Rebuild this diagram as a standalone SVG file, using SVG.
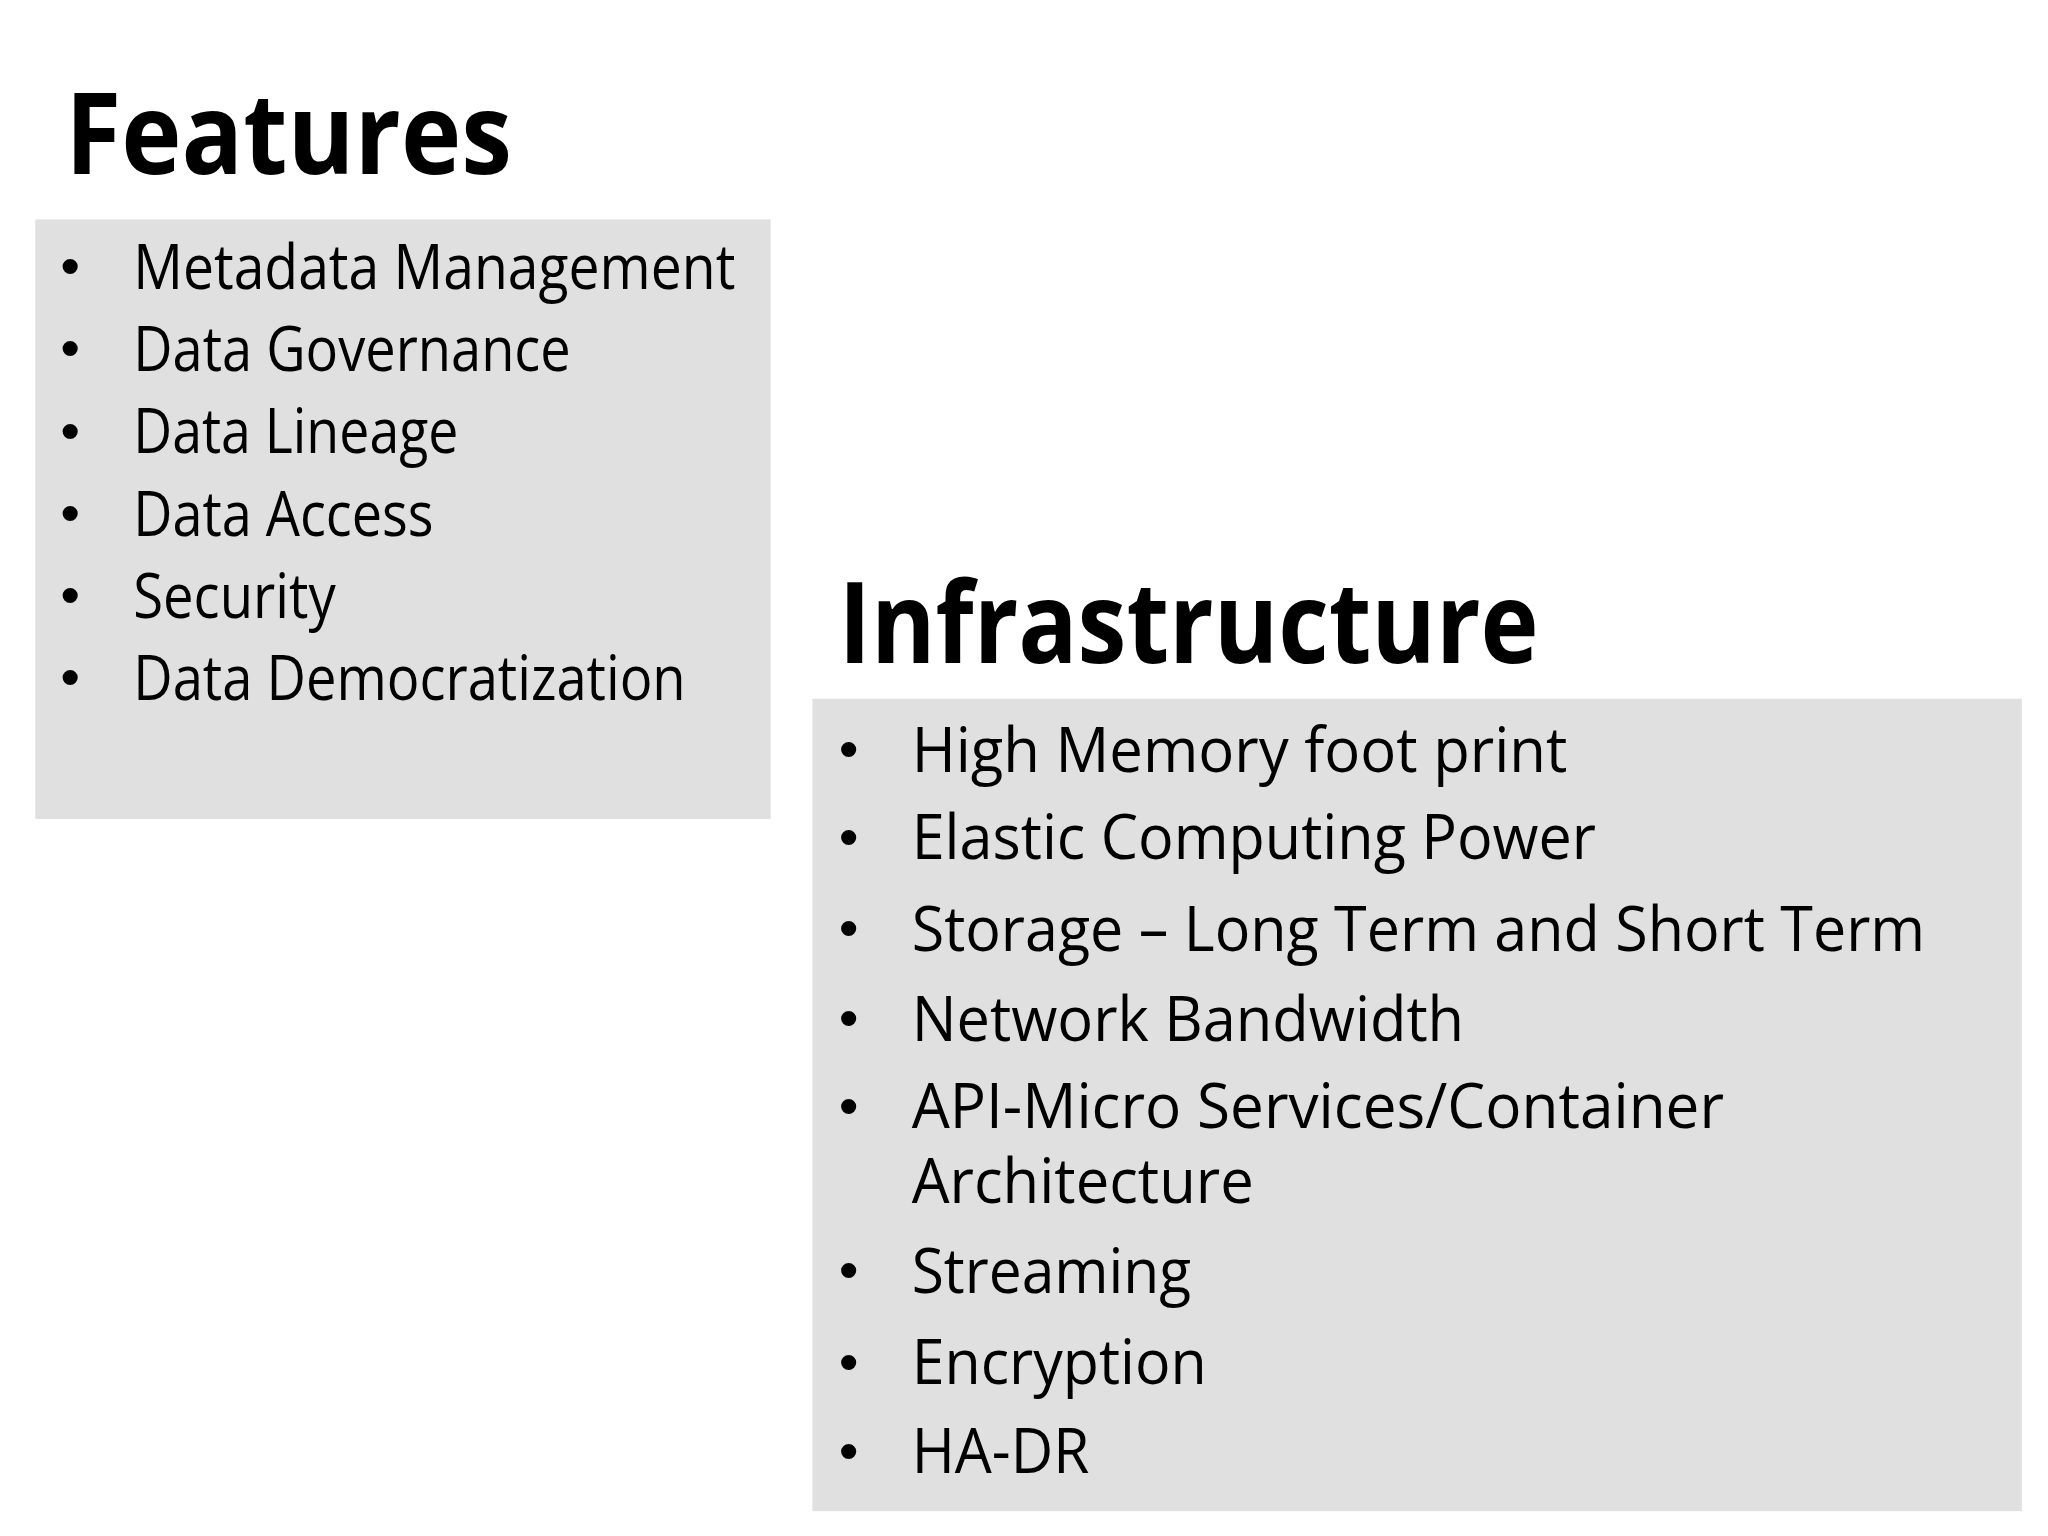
<svg xmlns="http://www.w3.org/2000/svg" width="2048" height="1536" viewBox="0 0 2048 1536">
<style>
.t{font-family:"Open Sans","DejaVu Sans",sans-serif;font-weight:bold;font-size:86px;fill:#000}
.i{font-family:"Open Sans","DejaVu Sans",sans-serif;font-size:47px;fill:#000}
.b{font-family:"DejaVu Sans",sans-serif;font-size:40px;fill:#000}
.box{fill:#e0e0e0}
</style>
<rect width="2048" height="1536" fill="#fff"/>
<g transform="scale(1.3061)">
<g id="features">
<text class="t" x="50" y="133" textLength="342" lengthAdjust="spacingAndGlyphs">Features</text>
<rect class="box" x="27" y="168" width="563" height="459"/>
<g class="b"><text x="42" y="219">•</text><text x="42" y="282">•</text><text x="42" y="345">•</text><text x="42" y="408">•</text><text x="42" y="471">•</text><text x="42" y="534">•</text></g>
<text class="i" x="102" y="221" textLength="461" lengthAdjust="spacingAndGlyphs">Metadata Management</text>
<text class="i" x="102" y="284" textLength="335" lengthAdjust="spacingAndGlyphs">Data Governance</text>
<text class="i" x="102" y="347" textLength="249" lengthAdjust="spacingAndGlyphs">Data Lineage</text>
<text class="i" x="102" y="410" textLength="230" lengthAdjust="spacingAndGlyphs">Data Access</text>
<text class="i" x="102" y="473" textLength="155" lengthAdjust="spacingAndGlyphs">Security</text>
<text class="i" x="102" y="536" textLength="423" lengthAdjust="spacingAndGlyphs">Data Democratization</text>
</g>
<g id="infrastructure">
<text class="t" x="642" y="508" textLength="536" lengthAdjust="spacingAndGlyphs">Infrastructure</text>
<rect class="box" x="622" y="535" width="926" height="622"/>
<g class="b"><text x="638" y="589">•</text><text x="638" y="656">•</text><text x="638" y="726">•</text><text x="638" y="795">•</text><text x="638" y="862">•</text><text x="638" y="988">•</text><text x="638" y="1058">•</text><text x="638" y="1126">•</text></g>
<text class="i" x="698" y="591" textLength="502" lengthAdjust="spacingAndGlyphs">High Memory foot print</text>
<text class="i" x="698" y="658" textLength="524" lengthAdjust="spacingAndGlyphs">Elastic Computing Power</text>
<text class="i" x="698" y="728" textLength="776" lengthAdjust="spacingAndGlyphs">Storage – Long Term and Short Term</text>
<text class="i" x="698" y="797" textLength="423" lengthAdjust="spacingAndGlyphs">Network Bandwidth</text>
<text class="i" x="698" y="864" textLength="622" lengthAdjust="spacingAndGlyphs">API-Micro Services/Container</text>
<text class="i" x="698" y="921" textLength="262" lengthAdjust="spacingAndGlyphs">Architecture</text>
<text class="i" x="698" y="990" textLength="214" lengthAdjust="spacingAndGlyphs">Streaming</text>
<text class="i" x="698" y="1060" textLength="226" lengthAdjust="spacingAndGlyphs">Encryption</text>
<text class="i" x="698" y="1128" textLength="136" lengthAdjust="spacingAndGlyphs">HA-DR</text>
</g>
</g>
</svg>
